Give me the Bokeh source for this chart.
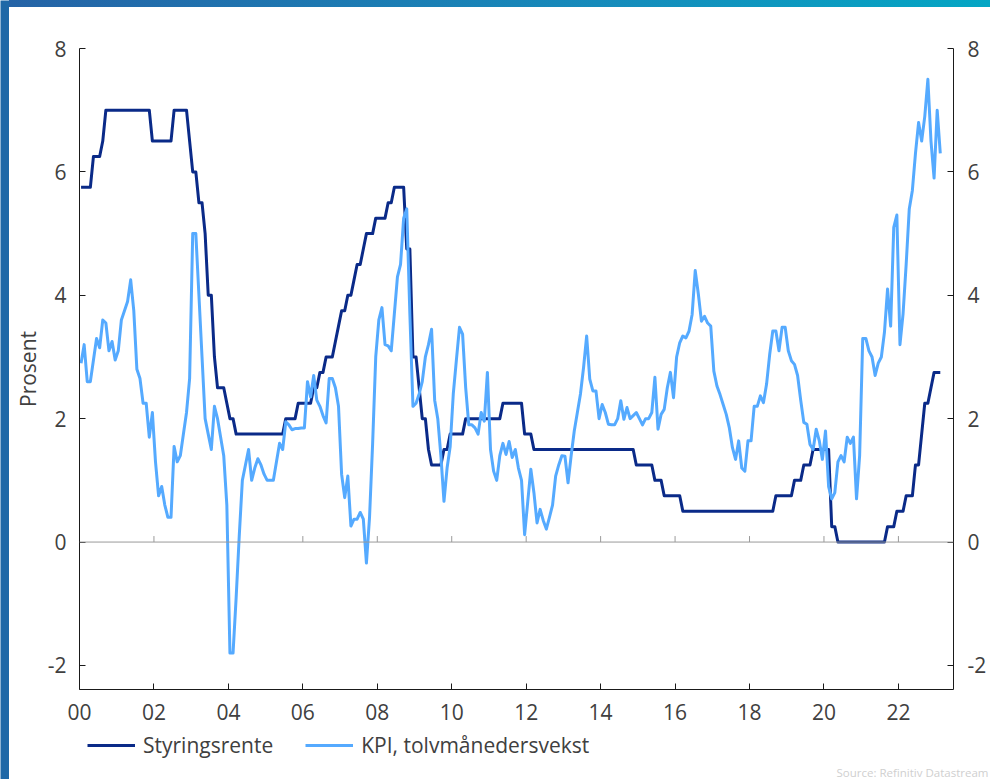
from bokeh.plotting import figure
from bokeh.layouts import row, column
from bokeh.models import (LinearAxis, FixedTicker, Legend, LegendItem, Span, Title, Range1d, Div)
from bokeh.embed import file_html
from bokeh.resources import INLINE

# ---------------- data ----------------
start_year = 2000  # first month: January 2000, monthly to February 2023

styringsrente = (
    [5.75, 5.75, 5.75, 5.75, 6.25, 6.25, 6.25, 6.5, 7.0, 7.0, 7.0, 7.0]          # 2000
    + [7.0] * 11 + [6.5]                                                          # 2001
    + [6.5] * 6 + [7.0] * 5 + [6.5]                                               # 2002
    + [6.0, 6.0, 5.5, 5.5, 5.0, 4.0, 4.0, 3.0, 2.5, 2.5, 2.5, 2.25]               # 2003
    + [2.0, 2.0] + [1.75] * 10                                                    # 2004
    + [1.75] * 6 + [2.0] * 4 + [2.25] * 2                                         # 2005
    + [2.25, 2.25, 2.25, 2.5, 2.5, 2.75, 2.75, 3.0, 3.0, 3.0, 3.25, 3.5]          # 2006
    + [3.75, 3.75, 4.0, 4.0, 4.25, 4.5, 4.5, 4.75, 5.0, 5.0, 5.0, 5.25]           # 2007
    + [5.25, 5.25, 5.25, 5.5, 5.5, 5.75, 5.75, 5.75, 5.75, 4.75, 4.75, 3.0]       # 2008
    + [3.0, 2.5, 2.0, 2.0, 1.5, 1.25, 1.25, 1.25, 1.25, 1.5, 1.5, 1.75]           # 2009
    + [1.75] * 4 + [2.0] * 8                                                      # 2010
    + [2.0] * 4 + [2.25] * 7 + [1.75]                                             # 2011
    + [1.75, 1.75] + [1.5] * 10                                                   # 2012
    + [1.5] * 12                                                                  # 2013
    + [1.5] * 11 + [1.25]                                                         # 2014
    + [1.25] * 5 + [1.0] * 3 + [0.75] * 4                                         # 2015
    + [0.75] * 2 + [0.5] * 10                                                     # 2016
    + [0.5] * 12                                                                  # 2017
    + [0.5] * 8 + [0.75] * 4                                                      # 2018
    + [0.75] * 2 + [1.0] * 3 + [1.25] * 3 + [1.5] * 4                             # 2019
    + [1.5] * 2 + [0.25] * 2 + [0.0] * 8                                          # 2020
    + [0.0] * 8 + [0.25] * 3 + [0.5]                                              # 2021
    + [0.5, 0.5, 0.75, 0.75, 0.75, 1.25, 1.25, 1.75, 2.25, 2.25, 2.5, 2.75]       # 2022
    + [2.75, 2.75]                                                                # 2023
)

kpi = (
    [2.9, 3.2, 2.6, 2.6, 2.95, 3.3, 3.15, 3.6, 3.55, 3.1, 3.25, 2.95]             # 2000
    + [3.1, 3.6, 3.75, 3.9, 4.25, 3.75, 2.8, 2.65, 2.25, 2.25, 1.7, 2.1]          # 2001
    + [1.3, 0.75, 0.9, 0.6, 0.4, 0.4, 1.55, 1.3, 1.4, 1.75, 2.1, 2.65]            # 2002
    + [5.0, 5.0, 4.0, 3.0, 2.0, 1.75, 1.5, 2.2, 2.0, 1.7, 1.4, 0.6]               # 2003
    + [-1.8, -1.8, -0.9, 0.1, 1.0, 1.25, 1.5, 1.0, 1.2, 1.35, 1.25, 1.1]          # 2004
    + [1.0, 1.0, 1.0, 1.3, 1.6, 1.5, 1.95, 1.9, 1.82, 1.84, 1.84, 1.85]           # 2005
    + [1.85, 2.6, 2.35, 2.7, 2.3, 2.2, 2.05, 1.93, 2.65, 2.65, 2.5, 2.2]          # 2006
    + [1.1, 0.72, 1.07, 0.26, 0.37, 0.37, 0.48, 0.37, -0.34, 0.4, 1.6, 3.0]       # 2007
    + [3.6, 3.8, 3.2, 3.18, 3.1, 3.7, 4.3, 4.5, 5.25, 5.4, 3.7, 2.2]              # 2008
    + [2.25, 2.4, 2.6, 3.0, 3.2, 3.45, 2.3, 2.0, 1.4, 0.66, 1.2, 1.55]            # 2009
    + [2.4, 2.95, 3.48, 3.37, 2.5, 1.9, 1.9, 1.85, 1.75, 2.1, 1.96, 2.75]         # 2010
    + [1.5, 1.15, 1.0, 1.4, 1.6, 1.42, 1.63, 1.37, 1.5, 1.2, 1.0, 0.12]           # 2011
    + [0.65, 1.18, 0.8, 0.31, 0.53, 0.35, 0.21, 0.4, 0.6, 1.07, 1.25, 1.4]        # 2012
    + [1.39, 0.96, 1.4, 1.8, 2.1, 2.4, 2.83, 3.34, 2.64, 2.45, 2.45, 2.0]         # 2013
    + [2.23, 2.1, 1.91, 1.9, 1.9, 2.0, 2.29, 1.99, 2.18, 2.0, 2.05, 2.1]          # 2014
    + [2.0, 1.9, 2.0, 2.0, 2.1, 2.67, 1.83, 2.07, 2.15, 2.5, 2.75, 2.34]          # 2015
    + [3.0, 3.23, 3.34, 3.31, 3.42, 3.69, 4.4, 4.02, 3.58, 3.66, 3.55, 3.5]       # 2016
    + [2.77, 2.53, 2.39, 2.23, 2.07, 1.85, 1.53, 1.34, 1.64, 1.2, 1.15, 1.64]     # 2017
    + [1.64, 2.2, 2.2, 2.37, 2.26, 2.56, 3.04, 3.42, 3.42, 3.1, 3.48, 3.48]       # 2018
    + [3.1, 2.94, 2.88, 2.7, 2.3, 1.94, 1.91, 1.58, 1.5, 1.83, 1.64, 1.34]        # 2019
    + [1.8, 0.9, 0.7, 0.8, 1.3, 1.4, 1.3, 1.7, 1.6, 1.7, 0.7, 1.4]                # 2020
    + [3.3, 3.3, 3.1, 3.0, 2.7, 2.9, 3.0, 3.4, 4.1, 3.5, 5.1, 5.3]                # 2021
    + [3.2, 3.7, 4.5, 5.4, 5.7, 6.3, 6.8, 6.5, 6.9, 7.5, 6.5, 5.9]                # 2022
    + [7.0, 6.3]                                                                  # 2023
)

x_ticks = [2000, 2002, 2004, 2006, 2008, 2010, 2012, 2014, 2016, 2018, 2020, 2022]
x_tick_labels = ["00", "02", "04", "06", "08", "10", "12", "14", "16", "18", "20", "22"]
y_ticks = [-2, 0, 2, 4, 6, 8]
y_tick_labels = ["-2", "0", "2", "4", "6", "8"]
series_names = ["Styringsrente", "KPI, tolvmånedersvekst"]
y_label = "Prosent"
source_note = "Source: Refinitiv Datastream"

# ---------------- styles ----------------
FONT = "Open Sans"
TEXT = "#404040"
AXIS = "#1a1a1a"
DARK = "#0a2a88"
LIGHT = "#55aaff"
STRIP = "#1f68a7"
BAR_GRADIENT = "linear-gradient(90deg, #2563a6 0%, #168bbb 60%, #04a6c4 100%)"

WIN_W, WIN_H = 990, 779
STRIP_W = 9
BAR_H = 7
MAIN_H = 723
LEG_H = WIN_H - BAR_H - MAIN_H
RIGHT_W = WIN_W - STRIP_W


def bare(width, height, bg="white"):
    f = figure(width=width, height=height, output_backend="svg", toolbar_location=None,
               x_range=Range1d(0, 1), y_range=Range1d(0, 1),
               x_axis_location=None, y_axis_location=None,
               min_border=0, min_border_left=0, min_border_right=0,
               min_border_top=0, min_border_bottom=0)
    f.outline_line_color = None
    f.grid.visible = False
    f.background_fill_color = bg
    f.border_fill_color = bg
    return f


# left decorative strip
strip = bare(STRIP_W, WIN_H, STRIP)

# top gradient bar
bar = Div(text="", width=RIGHT_W, height=BAR_H, margin=0,
          styles={"background": BAR_GRADIENT, "width": "%dpx" % RIGHT_W,
                  "height": "%dpx" % BAR_H})

# main chart
dates = [start_year + (i + 0.5) / 12 for i in range(len(kpi))]
BL, BR, BT, BB = 70, 37, 41, 41
p = figure(width=RIGHT_W, height=MAIN_H, output_backend="svg", toolbar_location=None,
           x_range=Range1d(2000, 2023.48), y_range=Range1d(-2.39, 8),
           min_border_left=BL, min_border_right=BR, min_border_top=BT, min_border_bottom=BB)
p.outline_line_color = None
p.xgrid.visible = False
p.ygrid.visible = False


def style_axis(ax, standoff):
    ax.axis_line_color = AXIS
    ax.major_tick_line_color = AXIS
    ax.major_tick_in = 6
    ax.major_tick_out = 0
    ax.minor_tick_line_color = None
    ax.major_label_text_font = FONT
    ax.major_label_text_font_size = "21px"
    ax.major_label_text_color = TEXT
    ax.major_label_standoff = standoff


xa = p.xaxis[0]
xa.ticker = FixedTicker(ticks=x_ticks)
xa.major_label_overrides = {t: l for t, l in zip(x_ticks, x_tick_labels)}
style_axis(xa, 14)

ya = p.yaxis[0]
ya.ticker = FixedTicker(ticks=y_ticks)
ya.major_label_overrides = {t: l for t, l in zip(y_ticks, y_tick_labels)}
style_axis(ya, 13)
ya.axis_label = y_label
ya.axis_label_text_font = FONT
ya.axis_label_text_font_size = "21px"
ya.axis_label_text_font_style = "normal"
ya.axis_label_text_color = TEXT
ya.axis_label_standoff = 3

ra = LinearAxis(ticker=FixedTicker(ticks=y_ticks))
ra.major_label_overrides = {t: l for t, l in zip(y_ticks, y_tick_labels)}
style_axis(ra, 14)
p.add_layout(ra, "right")

# zero line with small upward ticks
p.add_layout(Span(location=0, dimension="width", line_color="#9a9a9a", line_width=1))
frame_h = MAIN_H - BT - BB
tick_len = 6 * (8 - (-2.39)) / frame_h
p.segment(x0=x_ticks, y0=[0] * len(x_ticks), x1=x_ticks, y1=[tick_len] * len(x_ticks),
          line_color="#9a9a9a", line_width=1)

r1 = p.line(dates, styringsrente, line_color=DARK, line_width=3, line_join="round")
r2 = p.line(dates, kpi, line_color=LIGHT, line_width=3, line_join="round")

# legend strip below the chart (its frame is aligned with the chart's frame)
leg = bare(RIGHT_W, LEG_H)
g1 = leg.line(dates, styringsrente, line_color=DARK, line_width=3)   # outside view: legend glyph only
g2 = leg.line(dates, kpi, line_color=LIGHT, line_width=3)
legend = Legend(items=[LegendItem(label=series_names[0], renderers=[g1]),
                       LegendItem(label=series_names[1], renderers=[g2])],
                orientation="horizontal", location=(8, 3),
                glyph_width=48, glyph_height=20, label_standoff=8, spacing=32,
                padding=0, margin=0, border_line_color=None, background_fill_alpha=0,
                label_text_font=FONT, label_text_font_size="21px", label_text_color=TEXT)
leg.add_layout(legend)
leg.add_layout(Title(text=source_note, align="left", offset=757, standoff=0,
                     text_font=FONT, text_font_size="11.5px", text_font_style="normal",
                     text_color="#cfcfcf"), "below")

layout = row(strip, column(bar, p, leg, spacing=0), spacing=0)

open("out.html", "w").write(file_html(layout, INLINE))
